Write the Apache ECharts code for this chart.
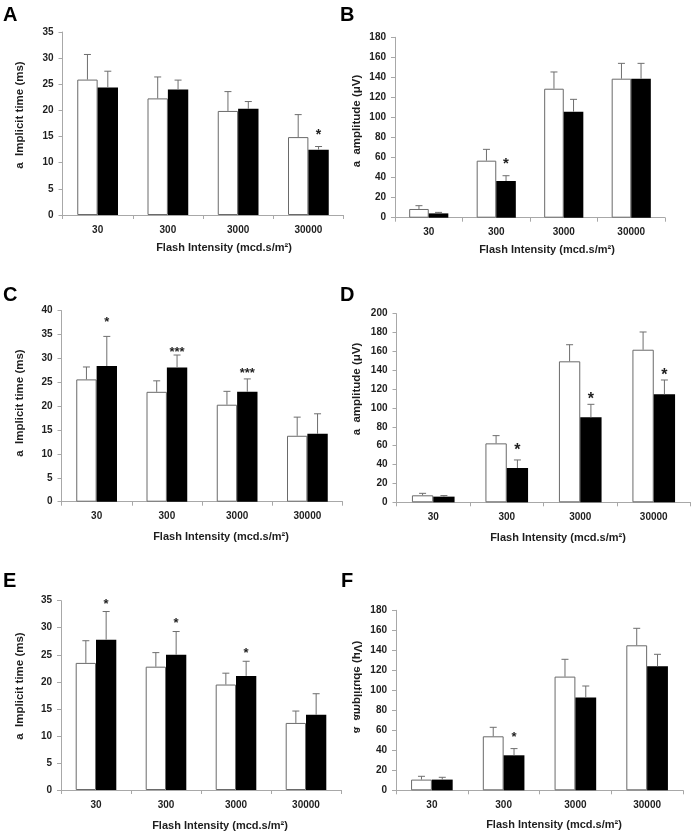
<!DOCTYPE html>
<html><head><meta charset="utf-8">
<script src="https://cdn.jsdelivr.net/npm/echarts@6/dist/echarts.min.js"></script>
<style>html,body{margin:0;padding:0;background:#fff}#c{width:695px;height:835px}</style>
</head><body><div id="c"></div>
<script>
// ---------- data ----------
const categories = ['30', '300', '3000', '30000'];
const xTitle = 'Flash Intensity (mcd.s/m²)';
const timeTitle = 'a  Implicit time (ms)';
const ampTitle = 'a  amplitude (μV)';
const panelLetters = ['A', 'B', 'C', 'D', 'E', 'F'];

const aWhite = [25.9, 22.3, 19.9, 14.9];
const aWhiteSD = [4.8, 4.1, 3.7, 4.3];
const aBlack = [24.4, 24.0, 20.3, 12.5];
const aBlackSD = [3.1, 1.8, 1.4, 0.6];
const aStars = ['', '', '', '*'];
const aStarLevels = [null, null, null, 16.0];

const bWhite = [8.7, 56.9, 128.7, 138.7];
const bWhiteSD = [3.3, 11.3, 16.7, 15.3];
const bBlack = [4.3, 36.6, 105.8, 138.7];
const bBlackSD = [1.0, 5.3, 12.3, 15.3];
const bStars = ['', '*', '', ''];
const bStarLevels = [null, 57, null, null];

const cWhite = [25.6, 23.0, 20.3, 13.8];
const cWhiteSD = [2.6, 2.3, 2.8, 3.9];
const cBlack = [28.4, 28.1, 23.0, 14.2];
const cBlackSD = [6.2, 2.6, 2.7, 4.2];
const cStars = ['*', '***', '***', ''];
const cStarLevels = [38.2, 31.9, 27.4, null];

const dWhite = [7.4, 62.5, 149.5, 161.8];
const dWhiteSD = [2.1, 8.2, 17.6, 18.8];
const dBlack = [6.0, 36.4, 90.1, 114.5];
const dBlackSD = [1.1, 8.5, 13.8, 15.2];
const dStars = ['', '*', '*', '*'];
const dStarLevels = [null, 59, 112.7, 138];

const eWhite = [23.5, 22.8, 19.5, 12.4];
const eWhiteSD = [4.1, 2.6, 2.1, 2.2];
const eBlack = [27.8, 25.0, 21.1, 13.9];
const eBlackSD = [5.2, 4.3, 2.7, 3.9];
const eStars = ['*', '*', '*', ''];
const eStarLevels = [34.8, 31.3, 25.9, null];

const fWhite = [10.7, 54, 113.7, 145];
const fWhiteSD = [3.3, 9, 17.3, 17];
const fBlack = [10.7, 35, 92.7, 124];
const fBlackSD = [2.3, 6.7, 11.6, 12];
const fStars = ['', '*', '', ''];
const fStarLevels = [null, 56, null, null];

const yMaxes = [35, 180, 40, 200, 35, 180];
const yIntervals = [5, 20, 5, 20, 5, 20];

// ---------- layout / style ----------
const FONT = '"Liberation Sans", Arial, Helvetica, sans-serif';
const TXT = '#1e1e1e';
const AXIS = '#a8a8a8';
const ERR = '#6e6e6e';
const BAR_FRAC = 0.29;

const panels = [
  {white: aWhite, wsd: aWhiteSD, black: aBlack, bsd: aBlackSD, stars: aStars, lv: aStarLevels, yTitle: timeTitle,
   grid: {left: 62.5, top: 32, width: 281, height: 183}, letter: [3, 5], xt: [224, 248], yt: [20, 115], starFont: 14, mirror: false},
  {white: bWhite, wsd: bWhiteSD, black: bBlack, bsd: bBlackSD, stars: bStars, lv: bStarLevels, yTitle: ampTitle,
   grid: {left: 395, top: 37.3, width: 270, height: 180.4}, letter: [340, 5], xt: [547, 250], yt: [357, 121], starFont: 15, mirror: false},
  {white: cWhite, wsd: cWhiteSD, black: cBlack, bsd: cBlackSD, stars: cStars, lv: cStarLevels, yTitle: timeTitle,
   grid: {left: 61.5, top: 310.6, width: 281, height: 191.1}, letter: [3, 285], xt: [221, 537], yt: [20, 403], starFont: 13, mirror: false},
  {white: dWhite, wsd: dWhiteSD, black: dBlack, bsd: dBlackSD, stars: dStars, lv: dStarLevels, yTitle: ampTitle,
   grid: {left: 396.5, top: 313.7, width: 294, height: 188.6}, letter: [340, 285], xt: [558, 538], yt: [357, 389], starFont: 16, mirror: false},
  {white: eWhite, wsd: eWhiteSD, black: eBlack, bsd: eBlackSD, stars: eStars, lv: eStarLevels, yTitle: timeTitle,
   grid: {left: 61, top: 600.7, width: 280, height: 189.3}, letter: [3, 571], xt: [220, 826], yt: [20, 686], starFont: 13, mirror: false},
  {white: fWhite, wsd: fWhiteSD, black: fBlack, bsd: fBlackSD, stars: fStars, lv: fStarLevels, yTitle: ampTitle,
   grid: {left: 396, top: 610.3, width: 287, height: 180}, letter: [341, 571], xt: [554, 825], yt: [357, 687], starFont: 13, mirror: true}
];

const grid = [], xAxis = [], yAxis = [], series = [], graphic = [];

function errSeries(idx, vals, sds, side, stars, levels, starFont) {
  return {
    type: 'custom', xAxisIndex: idx, yAxisIndex: idx, z: 5, silent: true,
    encode: {x: 0, y: [1, 2]},
    data: vals.map((v, i) => [i, v, v + sds[i], levels ? levels[i] : null]),
    renderItem: function (params, api) {
      const i = api.value(0);
      const base = api.coord([i, api.value(1)]);
      const top = api.coord([i, api.value(2)]);
      const bw = api.size([1, 0])[0] * BAR_FRAC;
      const x = base[0] + side * bw / 2;
      const children = [
        {type: 'line', shape: {x1: x, y1: base[1], x2: x, y2: top[1]}, style: {stroke: ERR, lineWidth: 1}},
        {type: 'line', shape: {x1: x - 3.5, y1: top[1], x2: x + 3.5, y2: top[1]}, style: {stroke: ERR, lineWidth: 1}}
      ];
      const st = stars ? stars[params.dataIndex] : '';
      const lvl = api.value(3);
      if (st && lvl != null && !isNaN(lvl)) {
        const p = api.coord([i, lvl]);
        children.push({type: 'text', x: x, y: p[1] + 0.24 * starFont,
          style: {text: st, font: 'bold ' + starFont + 'px ' + FONT, fill: TXT,
                  align: 'center', textAlign: 'center', verticalAlign: 'middle', textVerticalAlign: 'middle'}});
      }
      return {type: 'group', children: children};
    }
  };
}

panels.forEach((p, idx) => {
  grid.push(Object.assign({containLabel: false}, p.grid));
  xAxis.push({
    type: 'category', gridIndex: idx, data: categories,
    axisLine: {lineStyle: {color: AXIS, width: 1}},
    axisTick: {show: true, length: 4, lineStyle: {color: AXIS}},
    axisLabel: {color: TXT, fontSize: 10, fontWeight: 'bold', fontFamily: FONT, margin: 10}
  });
  yAxis.push({
    type: 'value', gridIndex: idx, min: 0, max: yMaxes[idx], interval: yIntervals[idx],
    axisLine: {show: true, lineStyle: {color: AXIS, width: 1}},
    axisTick: {show: true, length: 4, lineStyle: {color: AXIS}},
    splitLine: {show: false},
    axisLabel: {color: TXT, fontSize: 10, fontWeight: 'bold', fontFamily: FONT, margin: 9}
  });
  series.push({
    type: 'bar', xAxisIndex: idx, yAxisIndex: idx, data: p.white, barGap: '0%', barCategoryGap: '42%',
    itemStyle: {color: '#ffffff', borderColor: '#6a6a6a', borderWidth: 1}, silent: true
  });
  series.push({
    type: 'bar', xAxisIndex: idx, yAxisIndex: idx, data: p.black, barGap: '0%', barCategoryGap: '42%',
    itemStyle: {color: '#000000', borderColor: '#000000', borderWidth: 0}, silent: true
  });
  series.push(errSeries(idx, p.white, p.wsd, -1, null, null, p.starFont));
  series.push(errSeries(idx, p.black, p.bsd, 1, p.stars, p.lv, p.starFont));

  graphic.push({type: 'text', x: p.letter[0], y: p.letter[1],
    style: {text: panelLetters[idx], font: 'bold 20px ' + FONT, fill: '#000',
            align: 'left', textAlign: 'left', verticalAlign: 'top', textVerticalAlign: 'top'}});
  graphic.push({type: 'text', x: p.xt[0], y: p.xt[1],
    style: {text: xTitle, font: 'bold 11px ' + FONT, fill: TXT,
            align: 'center', textAlign: 'center', verticalAlign: 'middle', textVerticalAlign: 'middle'}});
  graphic.push({type: 'text', x: p.yt[0], y: p.yt[1], rotation: Math.PI / 2, scaleY: p.mirror ? -1 : 1,
    style: {text: p.yTitle, font: 'bold 11.5px ' + FONT, fill: TXT,
            align: 'center', textAlign: 'center', verticalAlign: 'middle', textVerticalAlign: 'middle'}});
});

const chart = echarts.init(document.getElementById('c'), null, {renderer: 'canvas'});
chart.setOption({
  animation: false,
  backgroundColor: '#ffffff',
  grid: grid, xAxis: xAxis, yAxis: yAxis, series: series, graphic: graphic
});
</script>
</body></html>
